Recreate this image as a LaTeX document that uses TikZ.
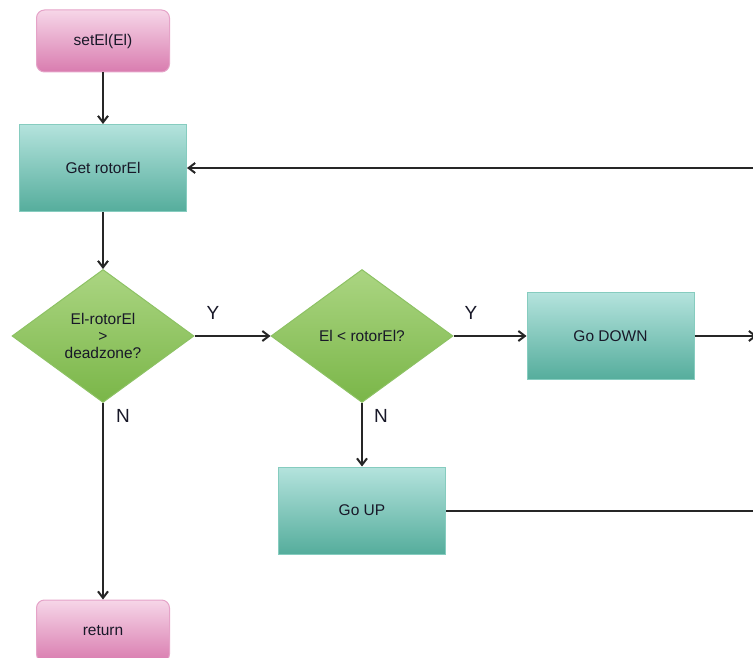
\documentclass[tikz,border=0pt]{standalone}
\usepackage{fontspec}
\setmainfont{Liberation Sans}
\usetikzlibrary{shapes.geometric,arrows.meta}
\definecolor{pinkb}{HTML}{E5A3C8}
\definecolor{pinkt}{HTML}{F6D6E8}
\definecolor{pinkbot}{HTML}{D97CAF}
\definecolor{tealb}{HTML}{86CCBF}
\definecolor{tealt}{HTML}{B4E3DD}
\definecolor{tealbot}{HTML}{55AD9C}
\definecolor{greenb}{HTML}{8DC264}
\definecolor{greent}{HTML}{ABD582}
\definecolor{greenbot}{HTML}{7AB648}
\definecolor{txtc}{HTML}{181828}
\begin{document}
\begin{tikzpicture}[x=1pt,y=-1pt,
 txt/.style={font=\fontsize{15.5}{17}\selectfont, text=txtc},
 term/.style={txt, draw=pinkb, rounded corners=8pt, top color=pinkt, bottom color=pinkbot, minimum width=133pt, minimum height=62pt, line width=1pt},
 proc/.style={txt, draw=tealb, top color=tealt, bottom color=tealbot, minimum width=167pt, minimum height=87pt, line width=1pt},
 dec/.style={txt, diamond, draw=greenb, top color=greent, bottom color=greenbot, minimum width=182pt, minimum height=133pt, inner sep=0pt, align=center, line width=1pt},
 conn/.style={draw=black!85, line width=2pt, -{Straight Barb[length=6.5pt,width=10pt]}},
 plain/.style={draw=black!85, line width=2pt},
 lbl/.style={font=\fontsize{19}{20}\selectfont, text=txtc}]
\useasboundingbox (0,0) rectangle (753,658);
\node[term] (start) at (103,41) {setEl(El)};
\node[proc] (get) at (103,168) {Get rotorEl};
\node[dec] (d1) at (103,336) {El-rotorEl\\>\\deadzone?};
\node[dec] (d2) at (362,336) {El < rotorEl?};
\node[proc] (down) at (610.5,336) {Go DOWN};
\node[proc] (up) at (362,510.5) {Go UP};
\node[term] (ret) at (103,631) {return};
\coordinate (eback) at (753,168);
\coordinate (edown) at (757,336);
\coordinate (eup) at (753,510.5);
\node[lbl] (y1) at (213,313) {Y};
\node[lbl] (n1) at (123,416) {N};
\node[lbl] (y2) at (471,313) {Y};
\node[lbl] (n2) at (381,416) {N};
\draw[conn] (start) -- (get);
\draw[conn] (get) -- (d1);
\draw[conn] (d1.east) -- (d2.west);
\draw[conn] (d2.east) -- (down.west);
\draw[conn] (down.east) -- (edown);
\draw[conn] (d2.south) -- (up.north);
\draw[plain] (up.east) -- (eup);
\draw[conn] (eback) -- (get.east);
\draw[conn] (d1.south) -- (ret.north);
\end{tikzpicture}
\end{document}
